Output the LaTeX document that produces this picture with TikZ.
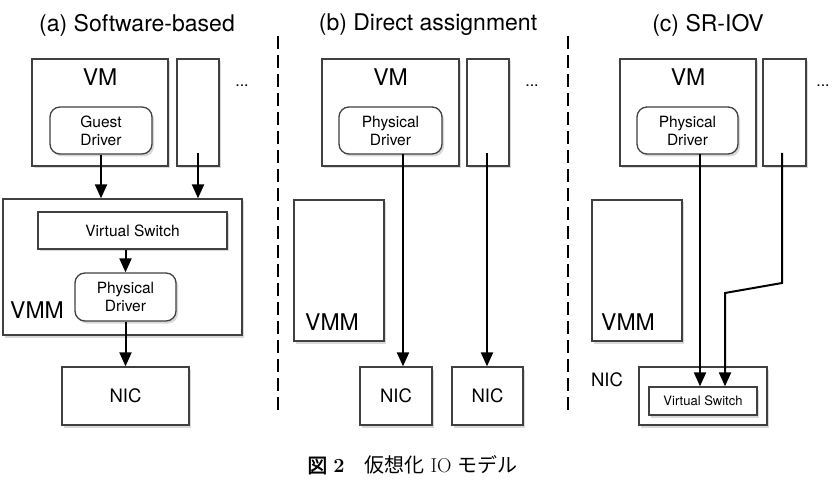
\documentclass[tikz,border=0pt]{standalone}
\usepackage{fontspec}
\setsansfont{TeX Gyre Heros}
\newfontfamily\cjk[AutoFakeBold=2]{Noto Sans CJK JP}
\usetikzlibrary{arrows.meta,shadows}

\begin{document}
\begin{tikzpicture}[
    x=1pt, y=-1pt,
    font=\sffamily,
    box/.style={
      draw=black!75,
      line width=1.3pt,
      fill=white,
      drop shadow={shadow xshift=2pt,shadow yshift=-2.5pt,opacity=0.3},
      inner sep=0pt
    },
    drv/.style={
      box,
      rounded corners=10pt,
      align=center,
      font=\sffamily\fontsize{15.5}{18}\selectfont
    },
    big/.style={font=\sffamily\fontsize{23}{27}\selectfont},
    nictext/.style={font=\sffamily\fontsize{18.5}{22}\selectfont},
    dots/.style={font=\sffamily\fontsize{16}{18}\selectfont, inner sep=0pt},
    link/.style={-{Triangle[length=14pt,width=12pt]}, line width=2pt},
    sepline/.style={line width=2pt, dash pattern=on 13pt off 6pt}
  ]
  \useasboundingbox (0,0) rectangle (832,486);

  % titles
  \node[big] (titleA) at (137,25) {(a) Software-based};
  \node[big] (titleB) at (428,25) {(b) Direct assignment};
  \node[big] (titleC) at (708,25) {(c) SR-IOV};

  % separators
  \coordinate (sepAtop) at (278,36);
  \coordinate (sepAbot) at (278,412);
  \coordinate (sepBtop) at (568,36);
  \coordinate (sepBbot) at (568,412);
  \draw[sepline] (sepAtop) -- (sepAbot);
  \draw[sepline] (sepBtop) -- (sepBbot);

  % (a) software-based
  \node[box, minimum width=136pt, minimum height=107pt] (vmA) at (100,112.5) {};
  \node[big] (vmAlabel) at (100,77) {VM};
  \node[drv, minimum width=102pt, minimum height=47pt] (gdA) at (101,130.5) {Guest\\Driver};
  \node[box, minimum width=42pt, minimum height=107pt] (smA) at (198,112.5) {};
  \node[dots] (dotsA) at (242,86) {...};
  \node[box, minimum width=239pt, minimum height=136pt] (vmmA) at (122.5,267) {};
  \node[big] (vmmAlabel) at (37,310) {VMM};
  \node[box, minimum width=189pt, minimum height=37pt,
        font=\sffamily\fontsize{15.5}{18}\selectfont] (vsA) at (132.5,230.5) {Virtual Switch};
  \node[drv, minimum width=101pt, minimum height=48pt] (pdA) at (125.5,297) {Physical\\Driver};
  \node[box, nictext, minimum width=127pt, minimum height=58pt] (nicA) at (125.5,396) {NIC};
  \coordinate (smAin) at (198,153);
  \draw[link] (gdA.south) -- (gdA.south |- vmmA.north);
  \draw[link] (smAin) -- (smAin |- vmmA.north);
  \draw[link] (pdA.north |- vsA.south) -- (pdA.north);
  \draw[link] (pdA.south) -- (nicA.north);

  % (b) direct assignment
  \node[box, minimum width=137pt, minimum height=107pt] (vmB) at (390.5,112.5) {};
  \node[big] (vmBlabel) at (390.5,77) {VM};
  \node[drv, minimum width=103pt, minimum height=47pt] (pdB) at (390.5,130.5) {Physical\\Driver};
  \node[box, minimum width=42pt, minimum height=107pt] (smB) at (488,112.5) {};
  \node[dots] (dotsB) at (532,86) {...};
  \node[box, minimum width=90pt, minimum height=141pt] (vmmB) at (339,270.5) {};
  \node[big] (vmmBlabel) at (332,322) {VMM};
  \node[box, nictext, minimum width=72pt, minimum height=58pt] (nicB1) at (396,396) {NIC};
  \node[box, nictext, minimum width=71pt, minimum height=58pt] (nicB2) at (487.5,396) {NIC};
  \coordinate (pdBout) at (403,154);
  \coordinate (smBin) at (487,153);
  \draw[link] (pdBout) -- (pdBout |- nicB1.north);
  \draw[link] (smBin) -- (smBin |- nicB2.north);

  % (c) SR-IOV
  \node[box, minimum width=136pt, minimum height=107pt] (vmC) at (688,112.5) {};
  \node[big] (vmClabel) at (688,77) {VM};
  \node[drv, minimum width=101pt, minimum height=47pt] (pdC) at (687.5,130.5) {Physical\\Driver};
  \node[box, minimum width=43pt, minimum height=107pt] (smC) at (784.5,112.5) {};
  \node[dots] (dotsC) at (823,86) {...};
  \node[box, minimum width=90pt, minimum height=141pt] (vmmC) at (637,270.5) {};
  \node[big] (vmmClabel) at (628,322) {VMM};
  \node[box, minimum width=128pt, minimum height=58pt] (nicC) at (703,396) {};
  \node[nictext] (nicClabel) at (607,380) {NIC};
  \node[box, minimum width=108pt, minimum height=28pt,
        font=\sffamily\fontsize{13}{15}\selectfont] (vsC) at (703,401) {Virtual Switch};
  \coordinate (pdCout) at (700,154);
  \coordinate (smCin) at (782,153);
  \coordinate (smCbendA) at (782,283);
  \coordinate (smCbendB) at (725,293);
  \draw[link] (pdCout) -- (pdCout |- vsC.north);
  \draw[link] (smCin) -- (smCbendA) -- (smCbendB) -- (smCbendB |- vsC.north);

  % caption
  \node[font=\rmfamily\fontsize{20}{24}\selectfont] (caption) at (412.5,465)
    {{\cjk\bfseries 図} \textbf{2}\quad{\cjk 仮想化} IO {\cjk モデル}};
\end{tikzpicture}
\end{document}
